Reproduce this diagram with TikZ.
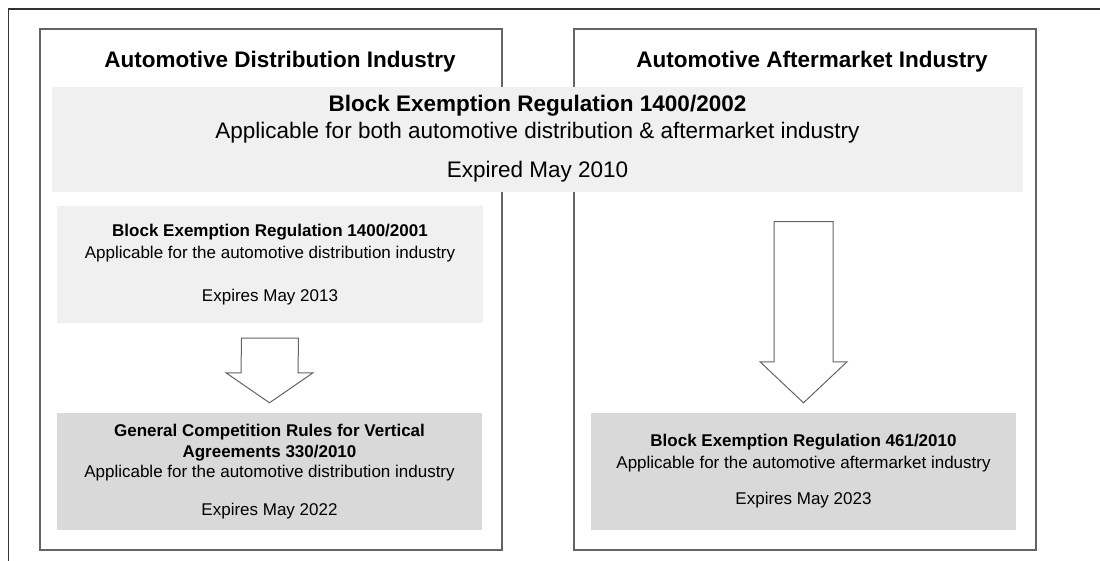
\documentclass[tikz,border=0pt]{standalone}
\usepackage{fontspec}
\setmainfont{Liberation Sans}
\usetikzlibrary{calc}
\definecolor{lightbox}{HTML}{F0F0F0}
\definecolor{darkbox}{HTML}{D9D9D9}
\definecolor{lineg}{HTML}{646464}

\begin{document}
\begin{tikzpicture}[x=1pt, y=-1pt,
		panel/.style={shape=rectangle, draw=lineg, line width=1.2pt, minimum width=462pt, minimum height=521pt, inner sep=0pt},
		headline/.style={font=\fontsize{22.5}{27}\selectfont\bfseries},
		regbox/.style={shape=rectangle, align=center, inner sep=0pt, minimum width=425pt, minimum height=117pt},
		blockarr/.style={draw=lineg, fill=white, line width=1pt, line join=miter}
	]
	\useasboundingbox (0,0) rectangle (1100,560);
	\clip (0,0) rectangle (1100,560);
	
	% outer frame, cut at right and bottom
	\draw[draw=black!80, line width=1.2pt] (8.5,9) rectangle (1140,600);
	
	\node (p1)[panel] at (271,289.5) {};
	\node (p2)[panel] at (805,289.5) {};
	
	\node (t1)[headline] at (280,62) {Automotive Distribution Industry};
	\node (t2)[headline] at (812,62) {Automotive Aftermarket Industry};
	
	\node (band)[regbox, fill=lightbox, minimum width=971pt, minimum height=105pt, font=\fontsize{22.5}{26.5}\selectfont] 
	at (537.5,139){
		\textbf{Block Exemption Regulation  1400/2002} \\
		Applicable for both automotive distribution \& aftermarket  industry \\[13pt]
		Expired May 2010
	};
	
	\node (d1)[regbox, fill=lightbox, minimum width=426pt, font=\fontsize{17}{22.5}\selectfont] 
	at (270,264.5){
		\textbf{Block Exemption Regulation 1400/2001} \\
		Applicable for the automotive distribution industry \\[20pt]
		Expires May 2013
	};
	
	\node (d2)[regbox, fill=darkbox, font=\fontsize{17}{20.5}\selectfont] 
	at (269.5,471.5){
		\textbf{General Competition Rules for Vertical} \\
		\textbf{Agreements 330/2010} \\
		Applicable for the automotive distribution industry \\[17pt]
		Expires May 2022
	};
	
	\node (a2)[regbox, fill=darkbox, font=\fontsize{17}{22}\selectfont] 
	at (803.5,471.5){
		\textbf{Block Exemption Regulation 461/2010} \\
		Applicable for the automotive aftermarket industry \\[14pt]
		Expires May 2023
	};
	
	% block arrows
	\draw[blockarr] ($(d1.south)+(-28.5,15)$) -- ($(d1.south)+(28.5,15)$) 
		-- ($(d2.north)+(28.5,-40)$) -- ($(d2.north)+(43.5,-40)$) -- ($(d2.north)+(0,-10)$) 
		-- ($(d2.north)+(-43.5,-40)$) -- ($(d2.north)+(-28.5,-40)$) -- cycle;
	\draw[blockarr] ($(band.south -| a2.north)+(-29.5,30)$) -- ($(band.south -| a2.north)+(29.5,30)$) 
		-- ($(a2.north)+(29.5,-51)$) -- ($(a2.north)+(43.5,-51)$) -- ($(a2.north)+(0,-10)$) 
		-- ($(a2.north)+(-43.5,-51)$) -- ($(a2.north)+(-29.5,-51)$) -- cycle;
\end{tikzpicture}
\end{document}
